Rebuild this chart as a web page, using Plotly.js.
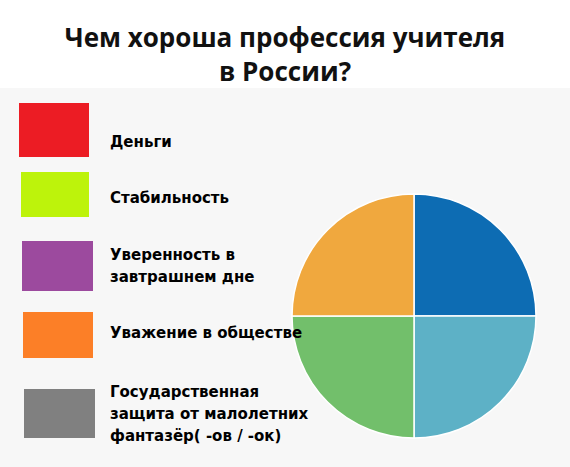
<!DOCTYPE html>
<html><head><meta charset="utf-8">
<script src="https://cdn.plot.ly/plotly-3.0.1.min.js"></script>
<style>html,body{margin:0;padding:0;background:#f7f7f7}#chart{width:570px;height:467px}</style>
</head><body><div id="chart"></div>
<script>
// Data
const titleText = 'Чем хороша профессия учителя<br>в России?';
const legendLabels = ['Деньги', 'Стабильность', 'Уверенность в<br>завтрашнем дне', 'Уважение в обществе', 'Государственная<br>защита от малолетних<br>фантазёр( -ов / -ок)'];
const legendColors = ['#ec1c24', '#bdf30b', '#9c4a9e', '#fc7f27', '#808080'];
const pieLabels = ['A', 'B', 'C', 'D'];
const pieValues = [1, 1, 1, 1];
const pieColors = ['#0d6cb3', '#5db1c6', '#72bf6b', '#f0a83e'];

// Layout (pixel geometry)
const W = 570, H = 467;
const px = x => x / W, py = y => 1 - y / H;
const boxes = [[19, 103, 89, 157], [21, 172, 89, 217], [22, 241, 93, 291], [23, 312, 93, 358], [24, 389, 95, 438]];
const textY = [142, 198, 266, 333, 414];
const lineGap = 22;
const cx = 414, cy = 316, r = 122;

const shapes = [{type: 'rect', xref: 'paper', yref: 'paper', x0: 0, x1: 1, y0: py(88), y1: 1,
  fillcolor: '#ffffff', line: {width: 0}, layer: 'below'}];
const annotations = [];
legendLabels.forEach((lab, i) => {
  const b = boxes[i];
  shapes.push({type: 'rect', xref: 'paper', yref: 'paper', x0: px(b[0]), x1: px(b[2]), y0: py(b[3]), y1: py(b[1]),
    fillcolor: legendColors[i], line: {width: 0}});
  const lines = lab.split('<br>');
  lines.forEach((ln, j) => {
    const yy = textY[i] + (j - (lines.length - 1) / 2) * lineGap;
    annotations.push({text: '<b>' + ln + '</b>', xref: 'paper', yref: 'paper', x: px(108), y: py(yy),
      xanchor: 'left', yanchor: 'middle', align: 'left', showarrow: false,
      font: {family: 'DejaVu Sans, sans-serif', size: 15, color: '#000'}});
  });
});

const trace = {type: 'pie', labels: pieLabels, values: pieValues, sort: false, direction: 'clockwise', rotation: 0,
  marker: {colors: pieColors, line: {color: '#ffffff', width: 1.5}}, textinfo: 'none', hoverinfo: 'none',
  showlegend: false,
  domain: {x: [px(cx - r), px(cx + r)], y: [py(cy + r), py(cy - r)]}};

const layout = {
  width: W, height: H, margin: {l: 0, r: 0, t: 0, b: 0},
  paper_bgcolor: '#f7f7f7', plot_bgcolor: '#f7f7f7', showlegend: false,
  title: {text: '<b>' + titleText + '</b>', x: 0.5, xanchor: 'center', y: py(47), yanchor: 'middle', yref: 'paper',
    font: {family: 'Open Sans, sans-serif', size: 26, color: '#111'}},
  shapes: shapes, annotations: annotations
};
Plotly.newPlot('chart', [trace], layout, {displayModeBar: false, staticPlot: true});
</script></body></html>
